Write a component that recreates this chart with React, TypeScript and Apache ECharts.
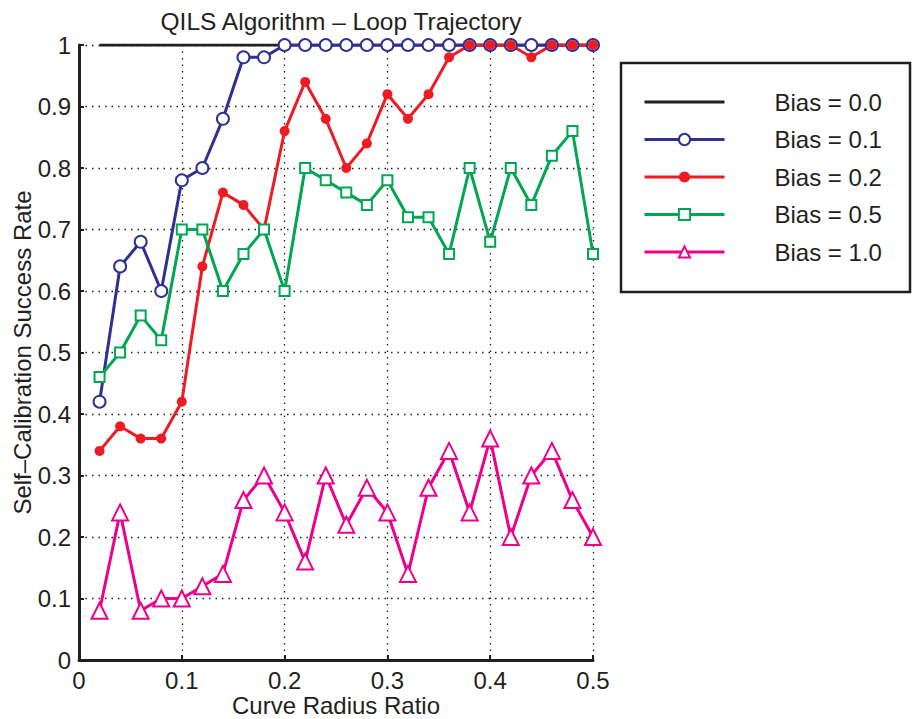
import React, { useEffect, useRef } from "react";
import * as echarts from "echarts";

const xValues = [0.02, 0.04, 0.06, 0.08, 0.1, 0.12, 0.14, 0.16, 0.18, 0.2, 0.22, 0.24, 0.26, 0.28, 0.3, 0.32, 0.34, 0.36, 0.38, 0.4, 0.42, 0.44, 0.46, 0.48, 0.5];
const bias00 = [1, 1, 1, 1, 1, 1, 1, 1, 1, 1, 1, 1, 1, 1, 1, 1, 1, 1, 1, 1, 1, 1, 1, 1, 1];
const bias01 = [0.42, 0.64, 0.68, 0.6, 0.78, 0.8, 0.88, 0.98, 0.98, 1, 1, 1, 1, 1, 1, 1, 1, 1, 1, 1, 1, 1, 1, 1, 1];
const bias02 = [0.34, 0.38, 0.36, 0.36, 0.42, 0.64, 0.76, 0.74, 0.7, 0.86, 0.94, 0.88, 0.8, 0.84, 0.92, 0.88, 0.92, 0.98, 1, 1, 1, 0.98, 1, 1, 1];
const bias05 = [0.46, 0.5, 0.56, 0.52, 0.7, 0.7, 0.6, 0.66, 0.7, 0.6, 0.8, 0.78, 0.76, 0.74, 0.78, 0.72, 0.72, 0.66, 0.8, 0.68, 0.8, 0.74, 0.82, 0.86, 0.66];
const bias10 = [0.08, 0.24, 0.08, 0.1, 0.1, 0.12, 0.14, 0.26, 0.3, 0.24, 0.16, 0.3, 0.22, 0.28, 0.24, 0.14, 0.28, 0.34, 0.24, 0.36, 0.2, 0.3, 0.34, 0.26, 0.2];
const seriesNames = ["Bias = 0.0", "Bias = 0.1", "Bias = 0.2", "Bias = 0.5", "Bias = 1.0"];

const TXT = "#231F20";
const FONT = "Liberation Sans, Arial, sans-serif";

function pairs(ys: number[]) {
  return xValues.map((x, i) => [x, ys[i]]);
}

export default function App() {
  const ref = useRef<HTMLDivElement>(null);
  useEffect(() => {
    if (!ref.current) return;
    const chart = echarts.init(ref.current, null, { renderer: "svg" });
    const grid = { lineStyle: { type: [1.5, 5], color: TXT, width: 1.3 } };
    chart.setOption({
      animation: false,
      backgroundColor: "#ffffff",
      textStyle: { fontFamily: FONT },
      title: {
        text: "QILS Algorithm \u2013 Loop Trajectory",
        left: 336,
        textAlign: "center",
        top: 4,
        textStyle: { fontSize: 24.5, fontWeight: "normal", color: TXT, fontFamily: FONT },
      },
      grid: { left: 79, right: 321, top: 45, bottom: 59, containLabel: false, outerBoundsMode: "none" },
      xAxis: {
        type: "value",
        min: 0,
        max: 0.5,
        interval: 0.1,
        name: "Curve Radius Ratio",
        nameLocation: "middle",
        nameGap: 33,
        nameMoveOverlap: false,
        nameTextStyle: { fontSize: 24, color: TXT, fontFamily: FONT },
        axisLine: { lineStyle: { color: TXT, width: 3 } },
        axisTick: { inside: true, length: 5, lineStyle: { color: TXT, width: 2 } },
        axisLabel: { fontSize: 24, color: TXT, margin: 8, fontFamily: FONT },
        splitLine: { show: true, ...grid },
      },
      yAxis: {
        type: "value",
        min: 0,
        max: 1,
        interval: 0.1,
        name: "Self\u2013Calibration Success Rate",
        nameLocation: "middle",
        nameGap: 45,
        nameMoveOverlap: false,
        nameTextStyle: { fontSize: 24, color: TXT, fontFamily: FONT },
        axisLine: { lineStyle: { color: TXT, width: 3 } },
        axisTick: { inside: true, length: 5, lineStyle: { color: TXT, width: 2 } },
        axisLabel: { fontSize: 24, color: TXT, margin: 8, fontFamily: FONT },
        splitLine: { show: true, ...grid },
      },
      legend: {
        orient: "vertical",
        left: 643,
        top: 89,
        padding: 0,
        itemWidth: 80,
        itemHeight: 14,
        itemGap: 11.5,
        data: seriesNames,
        lineStyle: { width: 3 },
        textStyle: { fontSize: 24, color: TXT, fontFamily: FONT, lineHeight: 26, padding: [0, 0, 0, 45] },
      },
      graphic: [
        {
          type: "rect",
          shape: { x: 621, y: 63, width: 289, height: 229 },
          style: { fill: "none", stroke: TXT, lineWidth: 2.5 },
          z: 10,
        },
      ],
      series: [
        {
          name: seriesNames[0],
          type: "line",
          data: pairs(bias00),
          symbol: "none",
          lineStyle: { color: TXT, width: 3 },
          itemStyle: { color: TXT, opacity: 0 },
        },
        {
          name: seriesNames[1],
          type: "line",
          data: pairs(bias01),
          symbol: "emptyCircle",
          symbolSize: 12,
          lineStyle: { color: "#2E3192", width: 3 },
          itemStyle: { color: "#2E3192", borderColor: "#2E3192", borderWidth: 2.6 },
        },
        {
          name: seriesNames[2],
          type: "line",
          data: pairs(bias02),
          symbol: "circle",
          symbolSize: 10,
          lineStyle: { color: "#ED1C24", width: 3 },
          itemStyle: { color: "#ED1C24" },
        },
        {
          name: seriesNames[3],
          type: "line",
          data: pairs(bias05),
          symbol: "emptyRect",
          symbolSize: 10,
          lineStyle: { color: "#00A651", width: 3 },
          itemStyle: { color: "#00A651", borderColor: "#00A651", borderWidth: 2.6 },
        },
        {
          name: seriesNames[4],
          type: "line",
          data: pairs(bias10),
          symbol: "emptyTriangle",
          symbolSize: 16,
          lineStyle: { color: "#EC008C", width: 3 },
          itemStyle: { color: "#EC008C", borderColor: "#EC008C", borderWidth: 3 },
        },
      ],
    });
    return () => chart.dispose();
  }, []);
  return <div ref={ref} style={{ width: 914, height: 719, position: "absolute", left: 0, top: 0 }} />;
}
